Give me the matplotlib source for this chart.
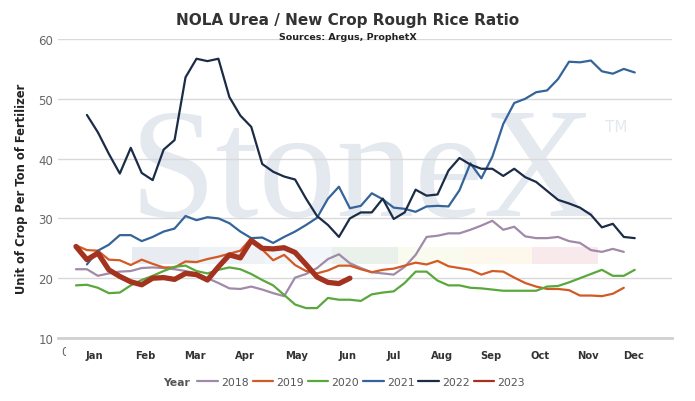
import matplotlib
matplotlib.use("Agg")
import matplotlib.pyplot as plt
import matplotlib.transforms as mtransforms
from matplotlib.patches import Rectangle
import numpy as np

# weekly ratio values
y2018 = [21.5, 21.5, 20.4, 20.8, 21.1, 21.2, 21.7, 21.8, 21.7, 21.5, 21.2, 20.8, 20.0,
         19.2, 18.3, 18.2, 18.6, 18.1, 17.5, 17.0, 20.1, 20.7, 21.7, 23.2, 24.0, 22.5,
         21.7, 21.0, 20.8, 20.6, 21.9, 23.9, 26.9, 27.1, 27.5, 27.5, 28.1, 28.8, 29.6,
         28.1, 28.6, 27.0, 26.7, 26.7, 26.9, 26.2, 25.9, 24.7, 24.4, 24.9, 24.4]
y2019 = [25.5, 24.7, 24.6, 23.1, 23.0, 22.2, 23.1, 22.4, 21.8, 21.8, 22.8, 22.7, 23.2,
         23.6, 24.1, 24.6, 26.7, 24.8, 23.0, 23.9, 22.2, 21.2, 20.8, 21.3, 22.1, 22.1,
         21.5, 21.0, 21.4, 21.6, 22.1, 22.6, 22.3, 22.9, 22.0, 21.7, 21.4, 20.6, 21.2,
         21.1, 20.1, 19.2, 18.6, 18.2, 18.2, 18.0, 17.1, 17.1, 17.0, 17.4, 18.4]
y2020 = [18.8, 18.9, 18.4, 17.5, 17.6, 18.8, 19.7, 20.4, 21.2, 21.9, 22.1, 21.2, 20.8,
         21.4, 21.8, 21.5, 20.7, 19.7, 18.8, 17.2, 15.6, 15.0, 15.0, 16.7, 16.4, 16.4,
         16.2, 17.3, 17.6, 17.8, 19.2, 21.1, 21.1, 19.6, 18.8, 18.8, 18.4, 18.3, 18.1,
         17.9, 17.9, 17.9, 17.9, 18.6, 18.7, 19.3, 20.0, 20.7, 21.4, 20.4, 20.4, 21.4]
y2021 = [22.3, 24.6, 25.6, 27.2, 27.2, 26.2, 26.9, 27.8, 28.3, 30.4, 29.7, 30.2, 30.0,
         29.2, 27.8, 26.7, 26.8, 25.9, 26.9, 27.8, 28.9, 30.1, 33.3, 35.3, 31.7, 32.1,
         34.2, 33.2, 31.8, 31.6, 31.1, 32.0, 32.1, 32.0, 34.7, 39.2, 36.7, 40.3, 45.8,
         49.3, 50.0, 51.1, 51.4, 53.3, 56.2, 56.1, 56.4, 54.6, 54.2, 55.0, 54.4]
y2022 = [47.3, 44.4, 40.8, 37.5, 41.8, 37.6, 36.4, 41.5, 43.1, 53.6, 56.7, 56.3, 56.7,
         50.3, 47.2, 45.3, 39.1, 37.8, 37.0, 36.5, 33.3, 30.4, 28.9, 26.9, 30.0, 31.0,
         31.0, 33.3, 29.9, 31.0, 34.8, 33.8, 34.0, 38.0, 40.1, 39.0, 38.3, 38.3, 37.1,
         38.3, 36.9, 36.1, 34.6, 33.1, 32.5, 31.8, 30.6, 28.5, 29.1, 26.9, 26.7]
y2023 = [25.3, 23.1, 24.2, 21.4, 20.3, 19.4, 18.9, 20.0, 20.1, 19.8, 20.8, 20.6, 19.7,
         21.9, 23.9, 23.4, 26.3, 25.0, 24.9, 25.1, 24.3, 22.3, 20.2, 19.3, 19.1, 20.0]

# first week of each series
start_week = {"2018": 1, "2019": 1, "2020": 1, "2021": 2, "2022": 2, "2023": 1}

months = ["Jan", "Feb", "Mar", "Apr", "May", "Jun", "Jul", "Aug", "Sep", "Oct", "Nov", "Dec"]
month_pos = [2.7, 7.3, 11.9, 16.4, 21.1, 25.8, 30.0, 34.4, 38.9, 43.4, 47.7, 51.9]

series = [
    ("2018", y2018, "#a08aa8", 1.6),
    ("2019", y2019, "#d25a24", 1.6),
    ("2020", y2020, "#5aa83c", 1.6),
    ("2021", y2021, "#35649a", 1.6),
    ("2022", y2022, "#1b2c47", 1.6),
    ("2023", y2023, "#a3321f", 3.8),
]

fig = plt.figure(figsize=(6.95, 4.02), dpi=100)
ax = fig.add_axes([58 / 695, 1 - 339 / 402, 614 / 695, 299 / 402])

# watermark
ax.text(0.497, 0.41, "StoneX", transform=ax.transAxes, ha="center", va="baseline",
        fontsize=112, family="Liberation Serif", color="#e4e8ef", zorder=0)
ax.text(0.91, 0.707, "TM", transform=ax.transAxes, ha="center", va="center",
        fontsize=11, color="#e4e8ef", zorder=0)
band_colors = ["#e8ecf2", "#eef1f6", "#f2f5f9", "#eaf1eb", "#fafbef", "#fdf7ec", "#f8eaec"]
trans = mtransforms.blended_transform_factory(ax.transAxes, ax.transData)
for i, c in enumerate(band_colors):
    ax.add_patch(Rectangle((0.1205 + i * 0.1085, 22.3), 0.1085, 3.0, transform=trans,
                           facecolor=c, edgecolor="none", zorder=0))

for name, vals, color, lw in series:
    wk = np.arange(start_week[name], start_week[name] + len(vals))
    ax.plot(wk, vals, color=color, lw=lw, label=name, zorder=3,
            solid_joinstyle="round", solid_capstyle="round")

ax.set_xlim(-0.64, 55.4)
ax.set_ylim(10, 60)
ax.set_yticks([10, 20, 30, 40, 50, 60])
ax.set_xticks([0, 10, 20, 30, 40, 50])
ax.tick_params(axis="both", length=0, labelsize=8.5, colors="#666666")
ax.tick_params(axis="x", pad=5)
ax.grid(axis="y", color="#d9d9d9", lw=1)
ax.set_axisbelow(True)
for s in ["top", "right", "left"]:
    ax.spines[s].set_visible(False)
ax.spines["bottom"].set_color("#d0d0d0")
ax.spines["bottom"].set_linewidth(2)

# the week numbers are mostly hidden under the month labels in the original
fig.patches.append(Rectangle((66 / 695, 0), 1, 1 - 345 / 402, transform=fig.transFigure,
                             facecolor="white", edgecolor="none", zorder=5))
mtrans = mtransforms.blended_transform_factory(ax.transData, fig.transFigure)
for m, p in zip(months, month_pos):
    fig.text(p, 1 - 356 / 402, m, transform=mtrans, ha="center", va="center",
             fontsize=7.2, fontweight="bold", color="#333333", zorder=6)

fig.text(0.5, 1 - 20 / 402, "NOLA Urea / New Crop Rough Rice Ratio", ha="center",
         va="center", fontsize=11, fontweight="bold", color="#333333")
fig.text(0.5, 1 - 37 / 402, "Sources: Argus, ProphetX", ha="center", va="center",
         fontsize=6.8, fontweight="bold", color="#222222")
fig.text(22 / 695, 1 - 189 / 402, "Unit of Crop Per Ton of Fertilizer", rotation=90,
         ha="center", va="center", fontsize=8.3, fontweight="bold", color="#222222")

fig.text(190 / 695, 1 - 383 / 402, "Year", ha="right", va="center", fontsize=7.8,
         fontweight="bold", color="#555555", zorder=6)
leg = fig.legend(loc="center left", bbox_to_anchor=(193 / 695, 1 - 383 / 402), ncol=6,
                 frameon=False, fontsize=7.8, handlelength=1.9, handletextpad=0.3,
                 columnspacing=0.35, borderaxespad=0)
leg.set_zorder(6)
for h in leg.get_lines():
    h.set_linewidth(1.6)
for t in leg.get_texts():
    t.set_color("#555555")

fig.savefig("out.png", dpi=100)
